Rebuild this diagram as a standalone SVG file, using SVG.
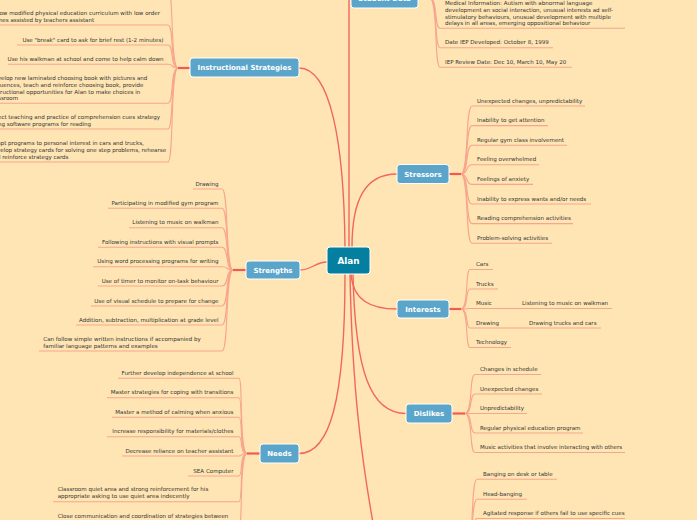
<svg xmlns="http://www.w3.org/2000/svg" width="697" height="520" viewBox="0 0 697 520">
<style>
.t{font-family:"DejaVu Sans",Verdana,sans-serif;font-size:5.55px;fill:#333333}
.e{text-anchor:end}
.n rect{fill:#5BA5CB;stroke:#fff;stroke-width:1}
.n text{font-family:"DejaVu Sans",Verdana,sans-serif;font-weight:bold;font-size:7px;fill:#fff;text-anchor:middle}
.m{fill:none;stroke:#F2665E;stroke-width:1.4}
.s{fill:none;stroke:#F05A50;stroke-width:2.2}
.c{fill:none;stroke:#F7A58C;stroke-width:1.1}
</style>
<rect width="697" height="520" fill="#FFE5B4"/>
<g id="connectors">
  <path class="m" d="M349,247 L349,-30"/>
  <path class="m" d="M299,68 C330,68 344,140 345,247"/>
  <path class="m" d="M352,247 C352,200 365,174 397,174"/>
  <path class="m" d="M327,262 C315,262 312,270 300,270"/>
  <path class="m" d="M351,274 C353,300 370,309 397,309"/>
  <path class="m" d="M353,274 C355,370 370,413.5 406,413.5"/>
  <path class="m" d="M345,274 C345,400 330,453.5 299,453.5"/>
  <path class="m" d="M350,274 C352,380 360,460 380,560"/>
  <path class="s" d="M190,68 H178"/>
  <path class="s" d="M449,174 H461"/>
  <path class="s" d="M246,270 H233"/>
  <path class="s" d="M449,309 H461"/>
  <path class="s" d="M452,413.5 H465"/>
  <path class="s" d="M260,453.5 H247"/>
  <path class="s" d="M418,-1.5 H430"/>
  <path class="c" d="M430,-1.5 C438,-1.5 434,28.3 440,28.3 H625"/>
  <path class="c" d="M430,-1.5 C438,-1.5 434,47.7 440,47.7 H553"/>
  <path class="c" d="M430,-1.5 C438,-1.5 434,67.3 440,67.3 H572"/>
  <path class="c" d="M178,68 C170,68 174,-12 168,-12 H0"/>
  <path class="c" d="M178,68 C170,68 174,25 168,25 H-15"/>
  <path class="c" d="M178,68 C170,68 174,45 168,45 H17"/>
  <path class="c" d="M178,68 C170,68 174,64.3 168,64.3 H8"/>
  <path class="c" d="M178,68 C170,68 174,103.3 168,103.3 H-15"/>
  <path class="c" d="M178,68 C170,68 174,129 168,129 H-15"/>
  <path class="c" d="M178,68 C170,68 174,162 168,162 H-15"/>
  <path class="c" d="M461,174 C469,174 465,106 472,106 H585"/>
  <path class="c" d="M461,174 C469,174 465,125.6 472,125.6 H548"/>
  <path class="c" d="M461,174 C469,174 465,145.2 472,145.2 H567"/>
  <path class="c" d="M461,174 C469,174 465,164.8 472,164.8 H539"/>
  <path class="c" d="M461,174 C469,174 465,184.4 472,184.4 H533"/>
  <path class="c" d="M461,174 C469,174 465,204 472,204 H591"/>
  <path class="c" d="M461,174 C469,174 465,223.6 472,223.6 H573"/>
  <path class="c" d="M461,174 C469,174 465,243.2 472,243.2 H552"/>
  <path class="c" d="M233,270 C225,270 229,189 222,189 H193"/>
  <path class="c" d="M233,270 C225,270 229,208.3 222,208.3 H108"/>
  <path class="c" d="M233,270 C225,270 229,227.7 222,227.7 H129"/>
  <path class="c" d="M233,270 C225,270 229,247.3 222,247.3 H98"/>
  <path class="c" d="M233,270 C225,270 229,266.7 222,266.7 H93"/>
  <path class="c" d="M233,270 C225,270 229,286 222,286 H98"/>
  <path class="c" d="M233,270 C225,270 229,306 222,306 H91"/>
  <path class="c" d="M233,270 C225,270 229,325 222,325 H76"/>
  <path class="c" d="M233,270 C225,270 229,351 222,351 H39"/>
  <path class="c" d="M461,309 C469,309 465,269.5 470,269.5 H493"/>
  <path class="c" d="M461,309 C469,309 465,289 470,289 H498"/>
  <path class="c" d="M461,309 C469,309 465,308.5 470,308.5 H612"/>
  <path class="c" d="M461,309 C469,309 465,328 470,328 H601"/>
  <path class="c" d="M461,309 C469,309 465,347.5 470,347.5 H511"/>
  <path class="c" d="M465,413.5 C473,413.5 469,374.5 475,374.5 H541"/>
  <path class="c" d="M465,413.5 C473,413.5 469,394 475,394 H542"/>
  <path class="c" d="M465,413.5 C473,413.5 469,413.5 475,413.5 H527"/>
  <path class="c" d="M465,413.5 C473,413.5 469,433 475,433 H583"/>
  <path class="c" d="M465,413.5 C473,413.5 469,452.5 475,452.5 H625"/>
  <path class="c" d="M247,453.5 C239,453.5 243,378.3 239,378.3 H118"/>
  <path class="c" d="M247,453.5 C239,453.5 243,397.7 239,397.7 H107"/>
  <path class="c" d="M247,453.5 C239,453.5 243,417.3 239,417.3 H112"/>
  <path class="c" d="M247,453.5 C239,453.5 243,436.7 239,436.7 H107"/>
  <path class="c" d="M247,453.5 C239,453.5 243,456 239,456 H122"/>
  <path class="c" d="M247,453.5 C239,453.5 243,476 239,476 H188"/>
  <path class="c" d="M247,453.5 C239,453.5 243,501.7 239,501.7 H53"/>
  <path class="c" d="M247,453.5 C239,453.5 243,529 239,529 H53"/>
  <path class="c" d="M466,565 C474,565 470,479.3 477,479.3 H557"/>
  <path class="c" d="M466,565 C474,565 470,499.3 477,499.3 H527"/>
  <path class="c" d="M466,565 C474,565 470,518.5 477,518.5 H625"/>
</g>

<g id="alan"><rect x="327" y="247" width="43" height="27" rx="3" fill="#047F9F" stroke="#fff" stroke-width="1"/>
<text x="348.5" y="263.8" font-family="DejaVu Sans,Verdana,sans-serif" font-weight="bold" font-size="8.8" fill="#fff" text-anchor="middle">Alan</text></g>

<g id="student-data" class="n"><rect x="351" y="-11" width="67" height="19" rx="3"/><text x="384.5" y="1">Student Data</text></g>
<g id="student-data-items" class="t">
  <text x="445" y="5.3">Medical Information: Autism with abnormal language</text>
  <text x="445" y="12">development an social interaction, unusual interests ad self-</text>
  <text x="445" y="18.7">stimulatory behaviours, unusual development with multiple</text>
  <text x="445" y="25.3">delays in all areas, emerging oppositional behaviour</text>
  <text x="445" y="44.3">Date IEP Developed: October 8, 1999</text>
  <text x="445" y="63.8">IEP Review Date: Dec 10, March 10, May 20</text>
</g>

<g id="instructional-strategies" class="n"><rect x="190" y="58" width="109" height="19" rx="3"/><text x="244.5" y="70">Instructional Strategies</text></g>
<g id="instructional-items" class="t">
  <text x="-10" y="15.3">Follow modified physical education curriculum with low order</text>
  <text x="-10" y="22">games assisted by teachers assistant</text>
  <text class="e" x="163.5" y="41.5">Use "break" card to ask for brief rest (1-2 minutes)</text>
  <text class="e" x="163.5" y="60.8">Use his walkman at school and come to help calm down</text>
  <text x="-10" y="80.3">Develop new laminated choosing book with pictures and</text>
  <text x="-10" y="87">sequences, teach and reinforce choosing book, provide</text>
  <text x="-10" y="93.7">instructional opportunities for Alan to make choices in</text>
  <text x="-10" y="100.3">classroom</text>
  <text x="-10" y="119.3">Direct teaching and practice of comprehension cues strategy</text>
  <text x="-10" y="126">using software programs for reading</text>
  <text x="-10" y="145.3">Adapt programs to personal interest in cars and trucks,</text>
  <text x="-10" y="152">develop strategy cards for solving one step problems, rehearse</text>
  <text x="-10" y="158.7">and reinforce strategy cards</text>
</g>

<g id="stressors" class="n"><rect x="397" y="164.5" width="52" height="19" rx="3"/><text x="423" y="176.5">Stressors</text></g>
<g id="stressors-items" class="t">
  <text x="477" y="102.5">Unexpected changes, unpredictability</text>
  <text x="477" y="122.1">Inability to get attention</text>
  <text x="477" y="141.7">Regular gym class involvement</text>
  <text x="477" y="161.3">Feeling overwhelmed</text>
  <text x="477" y="180.9">Feelings of anxiety</text>
  <text x="477" y="200.5">Inability to express wants and/or needs</text>
  <text x="477" y="220.1">Reading comprehension activities</text>
  <text x="477" y="239.7">Problem-solving activities</text>
</g>

<g id="strengths" class="n"><rect x="246" y="261" width="54" height="18" rx="3"/><text x="273" y="272.5">Strengths</text></g>
<g id="strengths-items" class="t">
  <text class="e" x="218.5" y="185.5">Drawing</text>
  <text class="e" x="218.5" y="204.8">Participating in modified gym program</text>
  <text class="e" x="218.5" y="224.2">Listening to music on walkman</text>
  <text class="e" x="218.5" y="243.8">Following instructions with visual prompts</text>
  <text class="e" x="218.5" y="263.2">Using word processing programs for writing</text>
  <text class="e" x="218.5" y="282.5">Use of timer to monitor on-task behaviour</text>
  <text class="e" x="218.5" y="302.5">Use of visual schedule to prepare for change</text>
  <text class="e" x="218.5" y="321.5">Addition, subtraction, multiplication at grade level</text>
  <text x="43.3" y="341">Can follow simple written instructions if accompanied by</text>
  <text x="43.3" y="347.5">familiar language patterns and examples</text>
</g>

<g id="interests" class="n"><rect x="397" y="300" width="52" height="18" rx="3"/><text x="423" y="311.5">Interests</text></g>
<g id="interests-items" class="t">
  <text x="476" y="266">Cars</text>
  <text x="476" y="285.5">Trucks</text>
  <text x="476" y="305">Music</text>
  <text x="522" y="305">Listening to music on walkman</text>
  <text x="476" y="324.5">Drawing</text>
  <text x="529" y="324.5">Drawing trucks and cars</text>
  <text x="476" y="344">Technology</text>
</g>

<g id="dislikes" class="n"><rect x="406" y="404" width="46" height="19" rx="3"/><text x="429" y="416">Dislikes</text></g>
<g id="dislikes-items" class="t">
  <text x="480" y="371">Changes in schedule</text>
  <text x="480" y="390.5">Unexpected changes</text>
  <text x="480" y="410">Unpredictability</text>
  <text x="480" y="429.5">Regular physical education program</text>
  <text x="480" y="449">Music activities that involve interacting with others</text>
</g>

<g id="needs" class="n"><rect x="260" y="444" width="39" height="19" rx="3"/><text x="279.5" y="456">Needs</text></g>
<g id="needs-items" class="t">
  <text class="e" x="233.5" y="374.8">Further develop independence at school</text>
  <text class="e" x="233.5" y="394.2">Master strategies for coping with transitions</text>
  <text class="e" x="233.5" y="413.8">Master a method of calming when anxious</text>
  <text class="e" x="233.5" y="433.2">Increase responsibility for materials/clothes</text>
  <text class="e" x="233.5" y="452.5">Decrease reliance on teacher assistant</text>
  <text class="e" x="233.5" y="472.5">SEA Computer</text>
  <text x="57.7" y="491.3">Classroom quiet area and strong reinforcement for his</text>
  <text x="57.7" y="498">appropriate asking to use quiet area indecently</text>
  <text x="57.7" y="517.7">Close communication and coordination of strategies between</text>
</g>

<g id="behaviour-items" class="t">
  <text x="483" y="475.8">Banging on desk or table</text>
  <text x="483" y="495.8">Head-banging</text>
  <text x="483" y="515">Agitated response if others fail to use specific cues</text>
</g>
</svg>
